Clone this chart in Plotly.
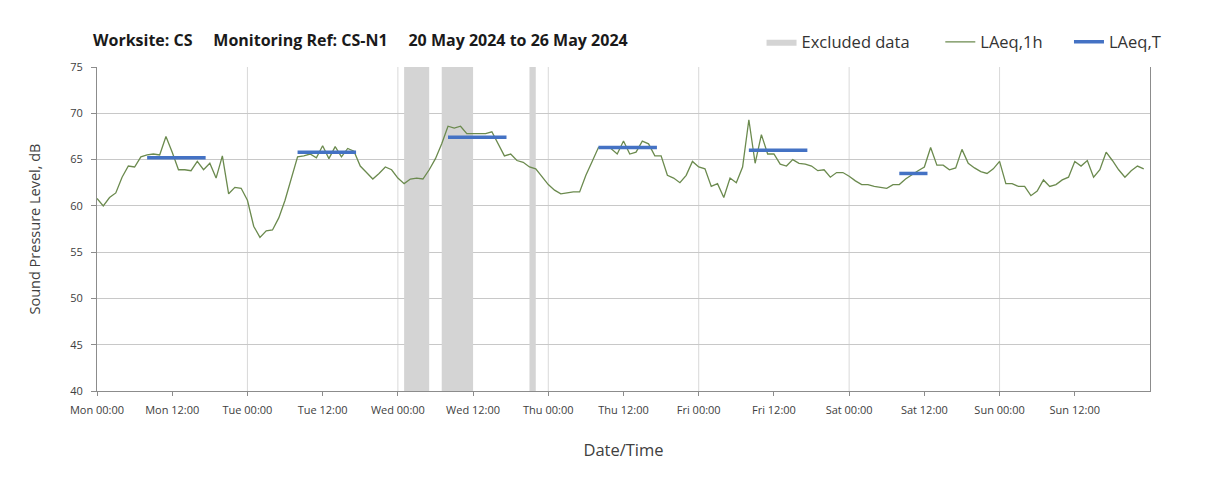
import pandas as pd
import plotly.graph_objects as go

# ---- data ----
start_time = "2024-05-20 00:00"
laeq_1h = [
    # Mon
    60.8, 60.0, 60.9, 61.4, 63.1, 64.3, 64.2, 65.3, 65.5, 65.6, 65.5, 67.5,
    65.8, 63.9, 63.9, 63.8, 64.8, 63.9, 64.6, 63.0, 65.4, 61.3, 62.0, 61.9,
    # Tue
    60.6, 57.8, 56.6, 57.3, 57.4, 58.7, 60.6, 63.0, 65.3, 65.4, 65.6, 65.2,
    66.5, 65.1, 66.4, 65.3, 66.2, 65.9, 64.3, 63.6, 62.9, 63.5, 64.2, 63.9,
    # Wed
    63.0, 62.4, 62.9, 63.0, 62.9, 63.9, 65.1, 66.7, 68.6, 68.4, 68.6, 67.8,
    67.8, 67.8, 67.8, 68.0, 66.7, 65.4, 65.6, 64.9, 64.7, 64.2, 64.0, 63.1,
    # Thu
    62.3, 61.7, 61.3, 61.4, 61.5, 61.5, 63.3, 64.8, 66.3, 66.4, 66.2, 65.6,
    67.0, 65.6, 65.8, 67.0, 66.7, 65.4, 65.4, 63.3, 63.0, 62.5, 63.3, 64.8,
    # Fri
    64.2, 64.0, 62.1, 62.4, 60.9, 63.0, 62.5, 64.2, 69.3, 64.6, 67.7, 65.6,
    65.6, 64.5, 64.3, 65.0, 64.6, 64.5, 64.3, 63.8, 63.9, 63.1, 63.6, 63.6,
    # Sat
    63.2, 62.7, 62.3, 62.3, 62.1, 62.0, 61.9, 62.3, 62.3, 62.9, 63.4, 63.8,
    64.2, 66.3, 64.4, 64.4, 63.9, 64.1, 66.1, 64.6, 64.1, 63.7, 63.5, 64.0,
    # Sun
    64.8, 62.4, 62.4, 62.1, 62.1, 61.1, 61.6, 62.8, 62.1, 62.3, 62.8, 63.1,
    64.8, 64.3, 64.9, 63.1, 63.9, 65.8, 64.9, 63.9, 63.1, 63.8, 64.3, 64.0,
]

period_start = ["2024-05-20 08:00", "2024-05-21 08:00", "2024-05-22 08:00",
                "2024-05-23 08:00", "2024-05-24 08:00", "2024-05-25 08:00"]
period_end = ["2024-05-20 17:20", "2024-05-21 17:20", "2024-05-22 17:20",
              "2024-05-23 17:20", "2024-05-24 17:20", "2024-05-25 12:30"]
laeq_t = [65.2, 65.8, 67.4, 66.3, 66.0, 63.5]

excluded_start = ["2024-05-22 01:00", "2024-05-22 07:00", "2024-05-22 21:00"]
excluded_end = ["2024-05-22 05:00", "2024-05-22 12:00", "2024-05-22 22:00"]

day_starts = ["2024-05-20", "2024-05-21", "2024-05-22", "2024-05-23",
              "2024-05-24", "2024-05-25", "2024-05-26", "2024-05-27"]

y_min, y_max = 40, 75
title_text = ("Worksite: CS" + "&nbsp;" * 5 + "Monitoring Ref: CS-N1"
              + "&nbsp;" * 5 + "20 May 2024 to 26 May 2024")
legend_names = ["Excluded data", "LAeq,1h", "LAeq,T"]

# ---- figure ----
times = pd.date_range(start_time, periods=len(laeq_1h), freq="h")
tick_times = pd.date_range(day_starts[0], day_starts[-1], freq="12h")[:-1]
FONT = "Open Sans"
TXT = "#404040"

fig = go.Figure()

# excluded data bands (as one filled trace)
bx, by = [], []
for s, e in zip(excluded_start, excluded_end):
    bx += [s, e, e, s, s, None]
    by += [y_min, y_min, y_max, y_max, y_min, None]
fig.add_trace(go.Scatter(
    x=bx, y=by, mode="lines", fill="toself", fillcolor="#d4d4d4",
    line=dict(width=0, color="#d4d4d4"), name=legend_names[0] + "&nbsp;" * 6,
    hoverinfo="skip"))

fig.add_trace(go.Scatter(
    x=times, y=laeq_1h, mode="lines", name=legend_names[1] + "&nbsp;" * 5,
    line=dict(color="#6b8a4e", width=1.3)))

tx, ty = [], []
for s, e, v in zip(period_start, period_end, laeq_t):
    tx += [s, e, None]
    ty += [v, v, None]
fig.add_trace(go.Scatter(
    x=tx, y=ty, mode="lines", name=legend_names[2],
    line=dict(color="#4472c4", width=3.5)))

# daily vertical gridlines
for d in day_starts[1:-1]:
    fig.add_shape(type="line", xref="x", yref="paper", x0=d, x1=d, y0=0, y1=1,
                  line=dict(color="#d9d9d9", width=1), layer="below")

fig.update_layout(
    width=1208, height=481,
    paper_bgcolor="white", plot_bgcolor="white",
    margin=dict(l=89, r=66, t=59, b=98),
    font=dict(family=FONT, color=TXT),
    title=dict(text=title_text, xref="container", x=85 / 1208, xanchor="left",
               yref="container", y=1 - 32 / 481, yanchor="middle",
               font=dict(size=16, color="#1a1a1a", family=FONT, weight="bold")),
    showlegend=True,
    legend=dict(orientation="h", xref="paper", x=1.0157, xanchor="right",
                yref="paper", y=1.077, yanchor="middle",
                font=dict(size=16.5, color="#333333"), bgcolor="rgba(0,0,0,0)",
                itemwidth=30, traceorder="normal"),
)

fig.update_xaxes(
    type="date", range=[day_starts[0], day_starts[-1]],
    tickmode="array", tickvals=list(tick_times),
    ticktext=[t.strftime("%a %H:%M") for t in tick_times],
    showgrid=False, showline=True, linecolor="#8c8c8c", linewidth=1,
    ticks="outside", ticklen=4, tickcolor="#8c8c8c", ticklabelstandoff=5,
    tickfont=dict(size=11, color=TXT), zeroline=False,
    title=dict(text="Date/Time", font=dict(size=16.5, color=TXT), standoff=28),
)
fig.update_yaxes(
    range=[y_min, y_max], dtick=5, showgrid=True, gridcolor="#c8c8c8",
    showline=True, linecolor="#8c8c8c", linewidth=1, mirror=True,
    ticks="outside", ticklen=5, tickcolor="#8c8c8c", ticklabelstandoff=6,
    tickfont=dict(size=11, color=TXT), zeroline=False,
    title=dict(text="Sound Pressure Level, dB", font=dict(size=14.5, color=TXT),
               standoff=26),
)

fig.write_html("out.html")
